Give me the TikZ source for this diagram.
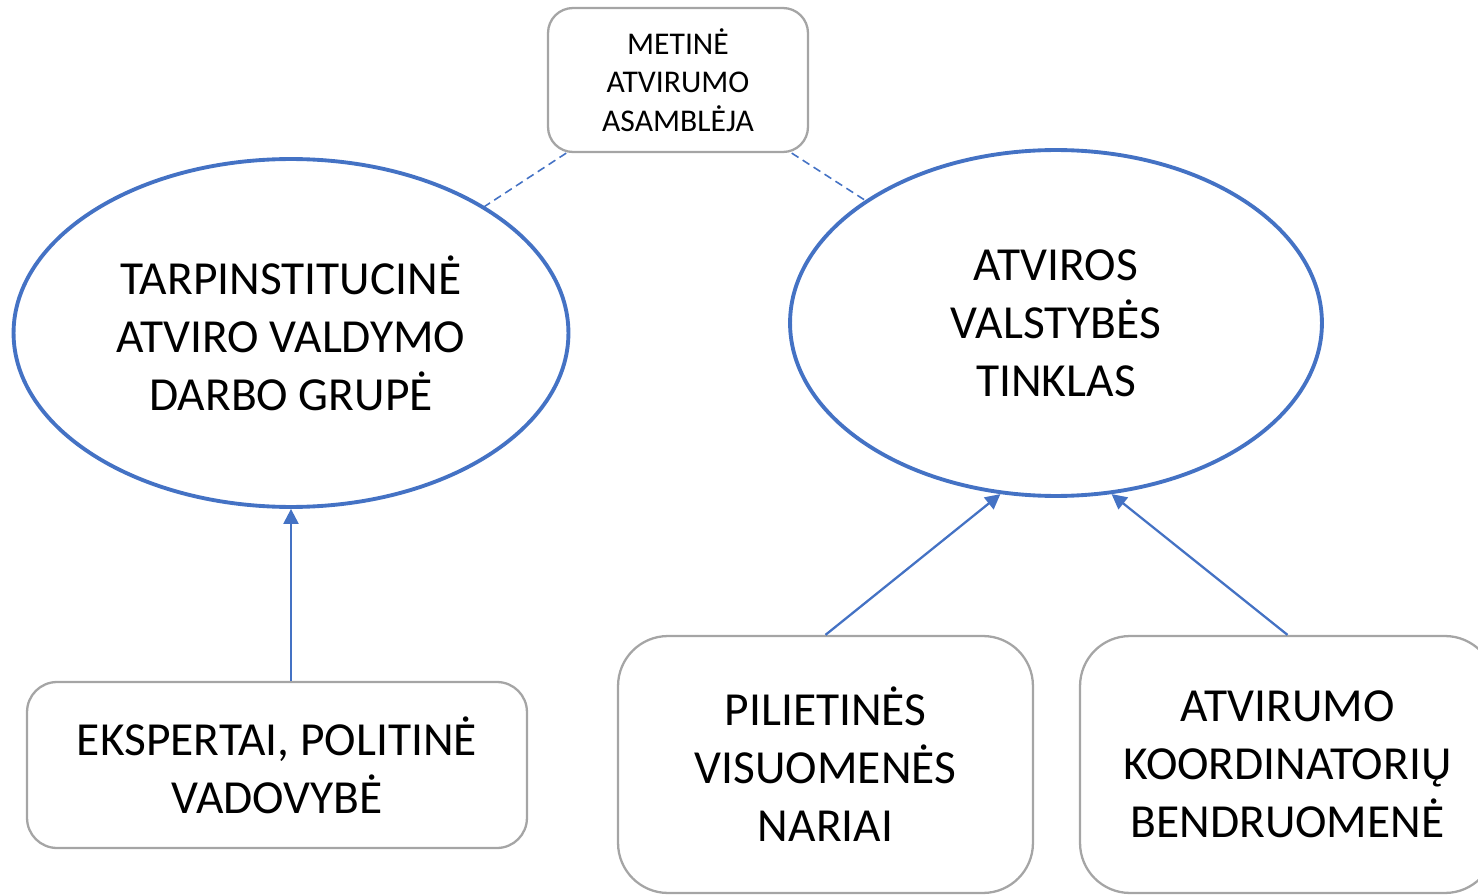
\documentclass[tikz,border=0pt]{standalone}
\usepackage{fontspec}
\setmainfont{Carlito}
\usetikzlibrary{shapes.geometric,arrows.meta}
\definecolor{netblue}{HTML}{4472C4}
\definecolor{boxgray}{HTML}{A5A5A5}
\begin{document}
\begin{tikzpicture}[x=0.02cm,y=-0.02cm,
		bigtext/.style={font=\fontsize{27}{33}\selectfont,align=center,inner sep=0pt},
		smalltext/.style={font=\fontsize{18}{21.9}\selectfont,align=center,inner sep=0pt},
		group/.style={bigtext,ellipse,draw=netblue,line width=2.2pt},
		member/.style={bigtext,rectangle,rounded corners=1cm,draw=boxgray,line width=1.3pt},
		link/.style={draw=netblue,line width=1.3pt,-{Triangle[length=0.3cm,width=0.3cm]}},
		tie/.style={draw=netblue,line width=0.9pt,dash pattern=on 0.16cm off 0.1cm}]
			\useasboundingbox (0,0) rectangle (1478,895);
			\node[smalltext,rectangle,rounded corners=0.5cm,draw=boxgray,line width=1.3pt,
				minimum width=5.2cm,minimum height=2.88cm] (asm) at (678,80)
				{METINĖ\\ATVIRUMO\\ASAMBLĖJA};
			\node[group,minimum width=11.1cm,minimum height=6.96cm] (grp) at (291,333)
				{TARPINSTITUCINĖ\\ATVIRO VALDYMO\\DARBO GRUPĖ};
			\node[group,minimum width=10.64cm,minimum height=6.92cm] (net) at (1056,323)
				{ATVIROS\\VALSTYBĖS\\TINKLAS};
			\node[member,rounded corners=0.6cm,minimum width=10cm,minimum height=3.32cm] (exp) at (277,765)
				{EKSPERTAI, POLITINĖ\\VADOVYBĖ};
			\node[member,minimum width=8.3cm,minimum height=5.14cm] (civ) at (825.5,764.5)
				{PILIETINĖS\\VISUOMENĖS\\NARIAI};
			\node[member,minimum width=8.3cm,minimum height=5.14cm] (crd) at (1287.5,764.5)
				{ATVIRUMO\\KOORDINATORIŲ\\BENDRUOMENĖ};
			\draw[tie] (asm) -- (grp);
			\draw[tie] (asm) -- (net);
			\draw[link] (exp.north -| grp.south) -- (grp.south);
			\draw[link] (civ.north) -- (net.252);
			\draw[link] (crd.north) -- (net.288);
\end{tikzpicture}
\end{document}
